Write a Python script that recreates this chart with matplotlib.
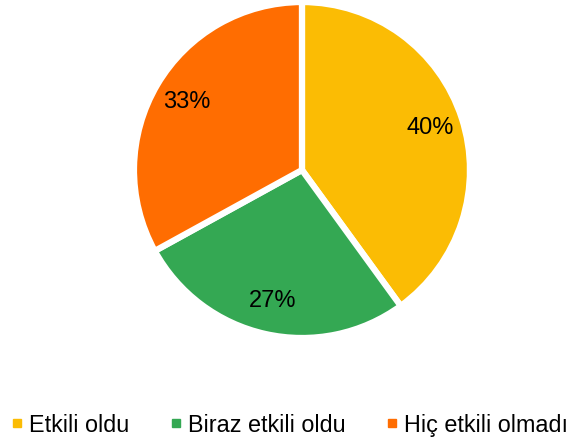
import matplotlib.pyplot as plt
from matplotlib.lines import Line2D

labels = ['Etkili oldu', 'Biraz etkili oldu', 'Hiç etkili olmadı']
values = [40, 27, 33]
colors = ['#FBBC04', '#34A853', '#FF6D01']

plt.rcParams['font.family'] = ['Liberation Sans', 'DejaVu Sans']

fig = plt.figure(figsize=(5.77, 4.48), dpi=100)
ax = fig.add_axes([0.2322, 0.2455, 0.5823, 0.75])

wedges, texts, autotexts = ax.pie(
    values, colors=colors, startangle=90, counterclock=False,
    autopct='%d%%', pctdistance=0.8,
    wedgeprops=dict(edgecolor='white', linewidth=4.5),
    textprops=dict(fontsize=17, color='black'))
ax.set_aspect('equal')
ax.set_xlim(-1, 1)
ax.set_ylim(-1, 1)

handles = [Line2D([0], [0], marker='s', linestyle='', markersize=6,
                  markerfacecolor=c, markeredgecolor=c) for c in colors]
fig.legend(handles, labels, loc='center', ncol=3, frameon=False,
           fontsize=16.8, bbox_to_anchor=(0.502, 1 - 425 / 448), handlelength=0.5,
           handletextpad=0.25, columnspacing=1.75)

fig.savefig('out.png', dpi=100)
